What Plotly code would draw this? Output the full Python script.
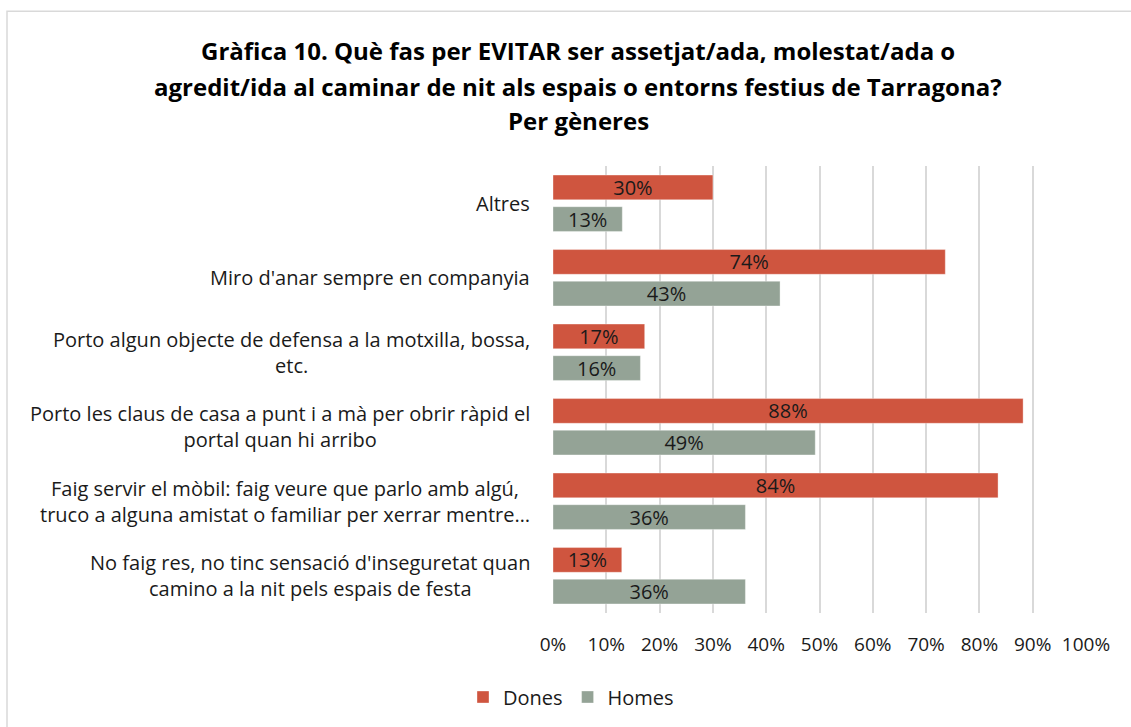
import plotly.graph_objects as go

categories = [
    "Altres",
    "Miro d'anar sempre en companyia",
    "Porto algun objecte de defensa a la motxilla, bossa,<br>etc.",
    "Porto les claus de casa a punt i a mà per obrir ràpid el<br>portal quan hi arribo",
    "Faig servir el mòbil: faig veure que parlo amb algú,<br>truco a alguna amistat o familiar per xerrar mentre…",
    "No faig res, no tinc sensació d'inseguretat quan<br>camino a la nit pels espais de festa",
]
dones = [30.0, 73.6, 17.2, 88.2, 83.5, 12.9]
homes = [13.0, 42.6, 16.4, 49.2, 36.1, 36.1]
series_names = ["Dones", "Homes"]
tick_vals = [0, 10, 20, 30, 40, 50, 60, 70, 80, 90, 100]
tick_text = ["0%", "10%", "20%", "30%", "40%", "50%", "60%", "70%", "80%", "90%", "100%"]
title_lines = [
    "Gràfica 10. Què fas per EVITAR ser assetjat/ada, molestat/ada o",
    "agredit/ida al caminar de nit als espais o entorns festius de Tarragona?",
    "Per gèneres",
]

FONT = "Open Sans"
TXT = "#1A1A1A"
colors = ["#CF553F", "#94A396"]

W, H = 1131, 727
L, R, T, B = 553, 45, 166, 113
plot_w = W - L - R
plot_h = H - T - B

fig = go.Figure()
for name, vals, col in zip(series_names, [dones, homes], colors):
    fig.add_trace(go.Bar(
        y=categories, x=vals, name=name, orientation="h",
        marker=dict(color=col, line=dict(color="rgba(255,255,255,0.35)", width=1)),
        text=[f"{round(v):.0f}%" for v in vals],
        textposition="inside", insidetextanchor="middle",
        constraintext="none",
        textfont=dict(family=FONT, size=20, color=TXT),
        hoverinfo="skip",
    ))

annotations = []
for c in categories:
    annotations.append(dict(
        xref="paper", yref="y", x=0, y=c, xshift=-21,
        xanchor="right", yanchor="middle", align="center",
        text=c, showarrow=False,
        font=dict(family=FONT, size=20, color=TXT),
    ))
title_cx = (578 - L) / plot_w
for line, ypage in zip(title_lines, [50, 86, 120]):
    annotations.append(dict(
        xref="paper", yref="paper", x=title_cx, y=1, yshift=T - ypage,
        xanchor="center", yanchor="middle",
        text=f"<b>{line}</b>", showarrow=False,
        font=dict(family=FONT, size=24, color="#000000"),
    ))

legend_cx = (571 - L) / plot_w
fig.update_layout(
    width=W, height=H,
    margin=dict(l=L, r=R, t=T, b=B, pad=0),
    paper_bgcolor="white", plot_bgcolor="white",
    barmode="group", bargap=0.15, bargroupgap=0.22,
    font=dict(family=FONT, size=19, color=TXT),
    showlegend=True,
    legend=dict(
        orientation="h", x=legend_cx, xanchor="center",
        y=(H - B - 697) / plot_h, yanchor="middle",
        font=dict(family=FONT, size=20, color=TXT),
        traceorder="normal", itemwidth=30,
    ),
    annotations=annotations,
    shapes=[dict(
        type="rect", xref="paper", yref="paper",
        x0=(7 - L) / plot_w, x1=2.0,
        y0=-2.0, y1=(H - B - 11) / plot_h,
        line=dict(color="#D9D9D9", width=1.5), layer="below",
    )],
)
fig.update_xaxes(
    range=[0, 100], tickvals=tick_vals, ticktext=tick_text,
    showgrid=True, gridcolor="#D9D9D9", gridwidth=2,
    zeroline=False, showline=False, ticks="",
    ticklabelstandoff=18,
    tickfont=dict(family=FONT, size=19, color=TXT),
    fixedrange=True,
)
fig.update_yaxes(
    autorange="reversed", showticklabels=False, showgrid=False,
    zeroline=False, showline=False, ticks="", fixedrange=True,
)

fig.write_html("out.html", config={"displayModeBar": False},
               post_script="document.body.style.margin='0';")
